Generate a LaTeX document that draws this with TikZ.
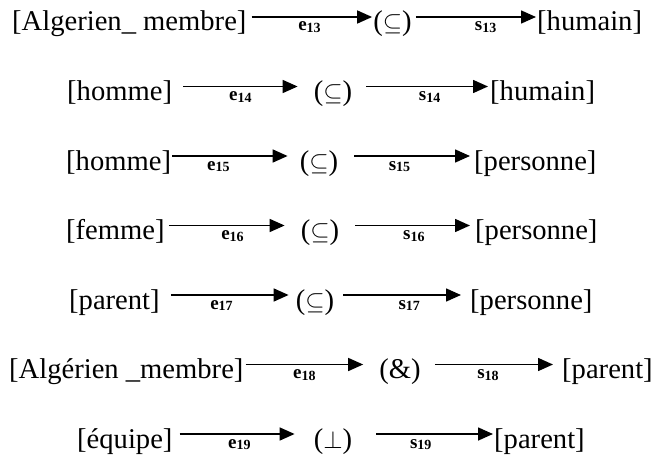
\documentclass[tikz,border=0pt]{standalone}
\usepackage{fontspec}
\setmainfont{Liberation Serif}
\usetikzlibrary{arrows.meta,calc}

% edge label: bold letter followed by a smaller, slightly lowered index
\newcommand\elabel[2]{{\fontsize{19}{19}\selectfont #1}{\fontsize{14}{14}\selectfont\raisebox{-1.5pt}{#2}}}
% arrow from node #1 to node #2, gaps #3/#4, label position #5, label #6
\newcommand\link[6]{\draw[arr] ($(#1.base east)+(#3,14)$) -- node[lab,pos=#5]{#6} ($(#2.base west)+(-#4,14)$);}

\begin{document}
\begin{tikzpicture}[x=1pt,y=1pt,
  term/.style={font=\fontsize{28.6}{32}\selectfont, inner sep=0pt, anchor=base},
  termw/.style={term, anchor=base west},
  arr/.style={line width=1.6pt, -{Triangle[length=15pt,width=13pt]}},
  lab/.style={anchor=base, yshift=-14pt, inner sep=0pt, font=\bfseries}]
\useasboundingbox (0,0) rectangle (653,456);

% row 1
\node[termw] (a1) at (12,425) {[Algerien\_ membre]};
\node[term]  (b1) at (392.5,425) {($\subseteq$)};
\node[termw] (c1) at (537,425) {[humain]};
\link{a1}{b1}{5}{1}{0.48}{\elabel{e}{13}}
\link{b1}{c1}{4}{1}{0.58}{\elabel{s}{13}}

% row 2
\node[termw] (a2) at (67,355.5) {[homme]};
\node[term]  (b2) at (333,355.5) {($\subseteq$)};
\node[termw] (c2) at (490,355.5) {[humain]};
\link{a2}{b2}{11}{16}{0.50}{\elabel{e}{14}}
\link{b2}{c2}{14}{2}{0.52}{\elabel{s}{14}}

% row 3
\node[termw] (a3) at (66,286) {[homme]};
\node[term]  (b3) at (319,286) {($\subseteq$)};
\node[termw] (c3) at (474,286) {[personne]};
\link{a3}{b3}{1}{12}{0.40}{\elabel{e}{15}}
\link{b3}{c3}{16}{4}{0.39}{\elabel{s}{15}}

% row 4
\node[termw] (a4) at (66,216.5) {[femme]};
\node[term]  (b4) at (320,216.5) {($\subseteq$)};
\node[termw] (c4) at (475,216.5) {[personne]};
\link{a4}{b4}{4}{16}{0.55}{\elabel{e}{16}}
\link{b4}{c4}{16}{5}{0.51}{\elabel{s}{16}}

% row 5
\node[termw] (a5) at (69,147) {[parent]};
\node[term]  (b5) at (315,147) {($\subseteq$)};
\node[termw] (c5) at (470,147) {[personne]};
\link{a5}{b5}{11}{7}{0.43}{\elabel{e}{17}}
\link{b5}{c5}{9}{9}{0.56}{\elabel{s}{17}}

% row 6
\node[termw] (a6) at (9,77.5) {[Algérien \_membre]};
\node[term]  (b6) at (400,77.5) {(\&)};
\node[termw] (c6) at (562,77.5) {[parent]};
\link{a6}{b6}{2}{16}{0.50}{\elabel{e}{18}}
\link{b6}{c6}{14}{9}{0.45}{\elabel{s}{18}}

% row 7
\node[termw] (a7) at (77,8) {[équipe]};
\node[term]  (b7) at (333,8) {($\perp$)};
\node[termw] (c7) at (494,8) {[parent]};
\link{a7}{b7}{7}{19}{0.52}{\elabel{e}{19}}
\link{b7}{c7}{24}{1}{0.38}{\elabel{s}{19}}
\end{tikzpicture}
\end{document}
